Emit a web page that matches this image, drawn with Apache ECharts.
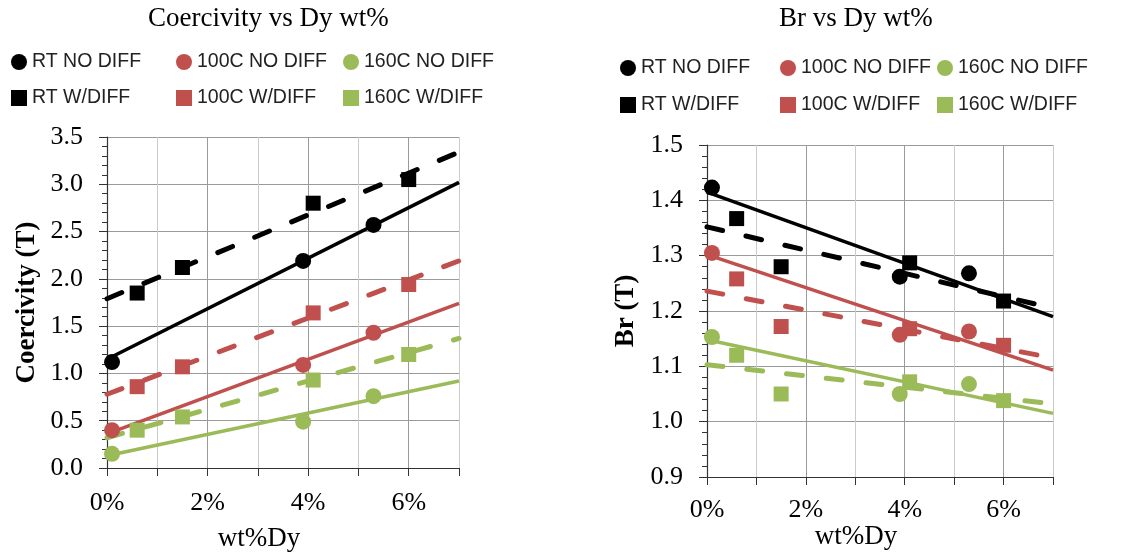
<!DOCTYPE html>
<html>
<head>
<meta charset="utf-8">
<script src="https://cdn.jsdelivr.net/npm/echarts@6/dist/echarts.min.js"></script>
<style>
  html, body { margin: 0; padding: 0; background: #fff; }
  #coer { position: absolute; left: 0; top: 0; width: 570px; height: 554px; }
  #br { position: absolute; left: 570px; top: 0; width: 569px; height: 554px; }
</style>
</head>
<body>
<div id="coer"></div>
<div id="br"></div>
<script>
// wt% Dy of the samples
const dyNoDiff = [0.1, 3.9, 5.3];
const dyWDiff = [0.6, 1.5, 4.1, 6.0];
// trend lines are drawn across the whole axis
const trendX = [0, 7];

const names = ['RT NO DIFF', '100C NO DIFF', '160C NO DIFF', 'RT W/DIFF', '100C W/DIFF', '160C W/DIFF'];
const colors = ['#000000', '#C0504D', '#9BBB59'];

// Coercivity (T)
const hcRtNo = [1.12, 2.19, 2.57];
const hc100No = [0.40, 1.09, 1.43];
const hc160No = [0.15, 0.49, 0.76];
const hcRtW = [1.85, 2.12, 2.80, 3.05];
const hc100W = [0.86, 1.07, 1.64, 1.94];
const hc160W = [0.40, 0.54, 0.93, 1.20];
// trend values at 0% and 7%
const hcTrendRtNo = [1.15, 3.02];
const hcTrend100No = [0.36, 1.74];
const hcTrend160No = [0.13, 0.92];
const hcTrendRtW = [1.79, 3.34];
const hcTrend100W = [0.78, 2.19];
const hcTrend160W = [0.32, 1.37];

// Br (T)
const brRtNo = [1.423, 1.262, 1.268];
const br100No = [1.305, 1.157, 1.163];
const br160No = [1.153, 1.050, 1.068];
const brRtW = [1.367, 1.280, 1.287, 1.218];
const br100W = [1.258, 1.172, 1.168, 1.138];
const br160W = [1.120, 1.050, 1.072, 1.038];
const brTrendRtNo = [1.415, 1.190];
const brTrend100No = [1.302, 1.093];
const brTrend160No = [1.148, 1.015];
const brTrendRtW = [1.352, 1.205];
const brTrend100W = [1.236, 1.115];
const brTrend160W = [1.103, 1.032];

const SERIF = 'Liberation Serif';
const SANS = 'Liberation Sans';

function zip(xs, ys) {
  return xs.map((x, i) => [x, ys[i]]);
}

function buildOption(cfg) {
  const scatter = (name, xs, ys, color, symbol, size) => ({
    name,
    type: 'scatter',
    data: zip(xs, ys),
    symbol,
    symbolSize: size,
    itemStyle: { color, opacity: 1 },
    z: 3,
  });
  const trend = (name, ys, color, dashed) => ({
    name: name + ' trend',
    type: 'line',
    data: zip(trendX, ys),
    showSymbol: false,
    silent: true,
    lineStyle: {
      color,
      width: dashed ? 5 : 3.5,
      type: dashed ? [16, 24] : 'solid',
      cap: dashed ? 'round' : 'butt',
    },
    z: 2,
  });

  const legend = (left, items) => ({
    left,
    top: cfg.legendTop,
    orient: 'vertical',
    itemGap: cfg.legendGap,
    itemWidth: 16,
    itemHeight: 16,
    padding: 0,
    selectedMode: false,
    data: items.map((n, i) => ({ name: n, icon: i === 0 ? 'circle' : 'rect' })),
    textStyle: { fontFamily: SANS, fontSize: 19.5, color: '#222', lineHeight: 20 },
  });

  return {
    animation: false,
    title: {
      text: cfg.title,
      left: cfg.titleLeft,
      top: 5,
      padding: 0,
      textStyle: { fontFamily: SERIF, fontSize: 27, fontWeight: 'normal', color: '#000' },
    },
    legend: [
      legend(cfg.legendLeft[0], [names[0], names[3]]),
      legend(cfg.legendLeft[1], [names[1], names[4]]),
      legend(cfg.legendLeft[2], [names[2], names[5]]),
    ],
    grid: { ...cfg.grid, outerBoundsMode: 'none' },
    xAxis: {
      type: 'value',
      min: 0,
      max: 7,
      interval: 1,
      name: 'wt%Dy',
      nameLocation: 'middle',
      nameGap: cfg.xNameGap,
      nameMoveOverlap: false,
      nameTextStyle: { fontFamily: SERIF, fontSize: 27, color: '#000', padding: [0, 48, 0, 0] },
      axisLine: { lineStyle: { color: '#333', width: 1.2 } },
      axisTick: { show: true, length: 8, lineStyle: { color: '#333' } },
      axisLabel: {
        margin: cfg.xLabelMargin,
        fontFamily: SERIF,
        fontSize: 26,
        color: '#000',
        formatter: (v) => (v % 2 === 0 && v < 7 ? v + '%' : ''),
      },
      splitLine: { show: true, lineStyle: { color: ['#9a9a9a', '#cccccc'], width: 1 } },
    },
    yAxis: {
      type: 'value',
      min: cfg.yMin,
      max: cfg.yMax,
      interval: cfg.yInterval,
      name: cfg.yName,
      nameLocation: 'middle',
      nameGap: cfg.yNameGap,
      nameMoveOverlap: false,
      nameTextStyle: { fontFamily: SERIF, fontSize: 27, fontWeight: 'bold', color: '#000' },
      axisLine: { show: true, lineStyle: { color: '#333', width: 1.2 } },
      axisTick: { show: true, length: 8, lineStyle: { color: '#333' } },
      minorTick: { show: true, splitNumber: 5, length: 5, lineStyle: { color: '#333' } },
      axisLabel: {
        margin: cfg.yLabelMargin,
        fontFamily: SERIF,
        fontSize: 26,
        color: '#000',
        formatter: (v) => v.toFixed(1),
      },
      splitLine: { show: true, lineStyle: { color: '#9a9a9a', width: 1 } },
    },
    series: [
      trend(names[0], cfg.trends[0], colors[0], false),
      trend(names[1], cfg.trends[1], colors[1], false),
      trend(names[2], cfg.trends[2], colors[2], false),
      trend(names[3], cfg.trends[3], colors[0], true),
      trend(names[4], cfg.trends[4], colors[1], true),
      trend(names[5], cfg.trends[5], colors[2], true),
      scatter(names[0], dyNoDiff, cfg.values[0], colors[0], 'circle', 16),
      scatter(names[1], dyNoDiff, cfg.values[1], colors[1], 'circle', 16),
      scatter(names[2], dyNoDiff, cfg.values[2], colors[2], 'circle', 16),
      scatter(names[3], dyWDiff, cfg.values[3], colors[0], 'rect', 15),
      scatter(names[4], dyWDiff, cfg.values[4], colors[1], 'rect', 15),
      scatter(names[5], dyWDiff, cfg.values[5], colors[2], 'rect', 15),
    ],
  };
}

const coerChart = echarts.init(document.getElementById('coer'));
coerChart.setOption(buildOption({
  title: 'Coercivity vs Dy wt%',
  titleLeft: 148,
  legendTop: 52,
  legendGap: 16,
  legendLeft: [11, 176, 343],
  grid: { left: 107, top: 137, width: 352, height: 331 },
  yMin: 0,
  yMax: 3.5,
  yInterval: 0.5,
  yName: 'Coercivity (T)',
  yNameGap: 66,
  yLabelMargin: 24,
  xNameGap: 57,
  xLabelMargin: 22,
  values: [hcRtNo, hc100No, hc160No, hcRtW, hc100W, hc160W],
  trends: [hcTrendRtNo, hcTrend100No, hcTrend160No, hcTrendRtW, hcTrend100W, hcTrend160W],
}));

const brChart = echarts.init(document.getElementById('br'));
brChart.setOption(buildOption({
  title: 'Br vs Dy wt%',
  titleLeft: 209,
  legendTop: 58,
  legendGap: 17,
  legendLeft: [50, 210, 367],
  grid: { left: 137, top: 145, width: 346, height: 332 },
  yMin: 0.9,
  yMax: 1.5,
  yInterval: 0.1,
  yName: 'Br (T)',
  yNameGap: 67,
  yLabelMargin: 24,
  xNameGap: 46,
  xLabelMargin: 20,
  values: [brRtNo, br100No, br160No, brRtW, br100W, br160W],
  trends: [brTrendRtNo, brTrend100No, brTrend160No, brTrendRtW, brTrend100W, brTrend160W],
}));
</script>
</body>
</html>
